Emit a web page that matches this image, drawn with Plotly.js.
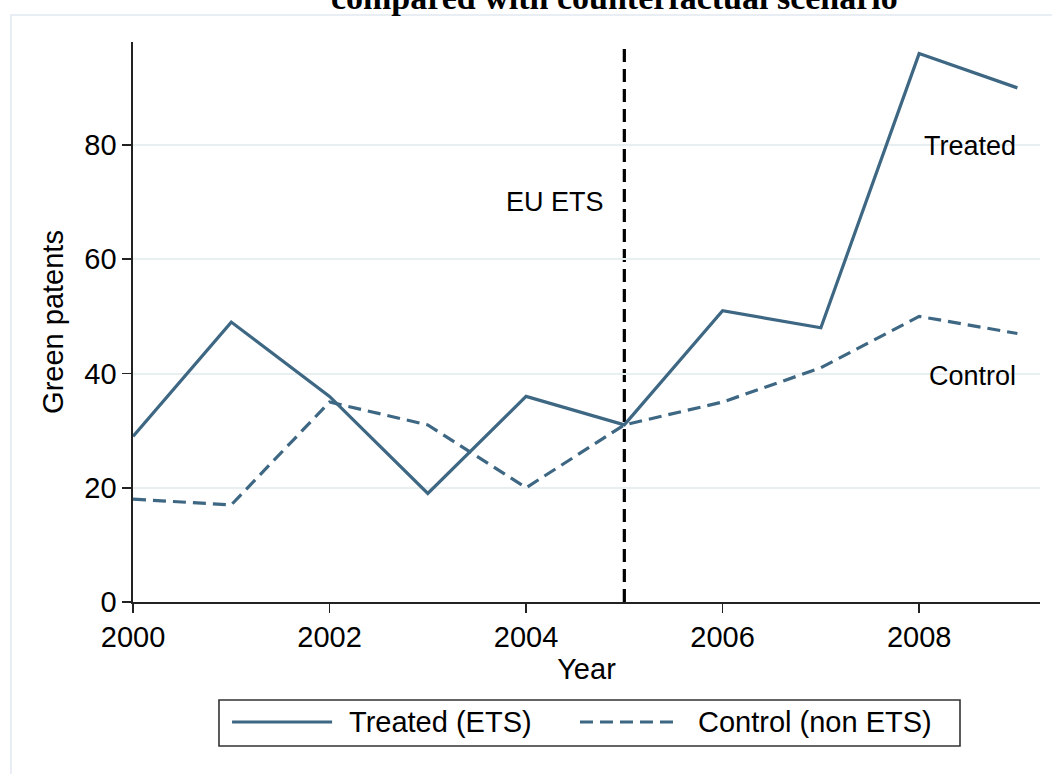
<!DOCTYPE html>
<html>
<head>
<meta charset="utf-8">
<script src="https://cdn.plot.ly/plotly-3.0.1.min.js"></script>
<style>html,body{margin:0;padding:0;background:#fff;}#chart{width:1052px;height:774px;}</style>
</head>
<body>
<div id="chart"></div>
<script>
// ---- data ----
const years = [2000, 2001, 2002, 2003, 2004, 2005, 2006, 2007, 2008, 2009];
const treated = [29, 49, 36, 19, 36, 31, 51, 48, 96, 90];
const control = [18, 17, 35, 31, 20, 31, 35, 41, 50, 47];
const seriesNames = ["Treated (ETS)", "Control (non ETS)"];
const lineLabels = ["Treated", "Control"];
const policyYear = 2005;
const policyLabel = "EU ETS";
const yTicks = [0, 20, 40, 60, 80];
const xTicks = [2000, 2002, 2004, 2006, 2008];
const titleText = "compared with counterfactual scenario";
const xTitle = "Year";
const yTitle = "Green patents";

// ---- style ----
const lineColor = "#3d6783";
const font = "Liberation Sans, Arial, Helvetica, sans-serif";

const traces = [
  {x: years, y: treated, name: seriesNames[0], type: "scatter", mode: "lines",
   line: {color: lineColor, width: 3.2}, showlegend: false},
  {x: years, y: control, name: seriesNames[1], type: "scatter", mode: "lines",
   line: {color: lineColor, width: 3.2, dash: "13px,7px"}, showlegend: false}
];

const legY = -0.2143;
const layout = {
  width: 1052, height: 774,
  margin: {l: 133, r: 12, t: 42, b: 172},
  paper_bgcolor: "#ffffff", plot_bgcolor: "#ffffff",
  font: {family: font, size: 29, color: "#000"},
  title: {text: "<b>" + titleText + "</b>", font: {family: "Liberation Serif, Times New Roman, serif", size: 34, color: "#000"},
          xref: "container", x: 0.584, xanchor: "center", yref: "container", y: 1, yanchor: "top", pad: {t: -15}},
  xaxis: {range: [2000, 2009.23], tickvals: xTicks, ticktext: xTicks.map(String),
          showgrid: false, zeroline: false, showline: true, linecolor: "#222", linewidth: 1.6,
          ticks: "outside", ticklen: 9, tickwidth: 1.6, tickcolor: "#222",
          tickfont: {size: 29}, title: {text: xTitle, font: {size: 29}, standoff: 1}},
  yaxis: {range: [0, 98.03], tickvals: yTicks, ticktext: yTicks.map(String),
          showgrid: true, gridcolor: "#e8eff1", gridwidth: 2, zeroline: false,
          showline: true, linecolor: "#222", linewidth: 1.6,
          ticks: "outside", ticklen: 9, tickwidth: 1.6, tickcolor: "#222",
          tickfont: {size: 29}, title: {text: yTitle, font: {size: 29}, standoff: 12}},
  shapes: [
    // outer frame
    {type: "rect", xref: "paper", yref: "paper", x0: -0.1345, x1: 1.05, y0: -0.4, y1: 1.048,
     line: {color: "#e8eef3", width: 2}, fillcolor: "rgba(0,0,0,0)", layer: "below"},
    // policy line
    {type: "line", xref: "x", yref: "paper", x0: policyYear, x1: policyYear, y0: 0, y1: 1,
     line: {color: "#000", width: 3.2, dash: "13px,7px"}, layer: "between"},
    // legend box
    {type: "rect", xref: "paper", yref: "paper", x0: 0.0948, x1: 0.9118, y0: -0.2571, y1: -0.175,
     line: {color: "#333", width: 1.6}, fillcolor: "#fff"},
    {type: "line", xref: "paper", yref: "paper", x0: 0.1092, x1: 0.2195, y0: legY, y1: legY,
     line: {color: lineColor, width: 3.2}},
    {type: "line", xref: "paper", yref: "paper", x0: 0.4928, x1: 0.6031, y0: legY, y1: legY,
     line: {color: lineColor, width: 3.2, dash: "13px,7px"}}
  ],
  annotations: [
    {xref: "x", yref: "y", x: 2004.29, y: 70, text: policyLabel, showarrow: false, font: {size: 27}},
    {xref: "x", yref: "y", x: 2008.52, y: 79.8, text: lineLabels[0], showarrow: false, font: {size: 27}},
    {xref: "x", yref: "y", x: 2008.54, y: 39.6, text: lineLabels[1], showarrow: false, font: {size: 27}},
    {xref: "paper", yref: "paper", x: 0.2359, y: legY, xanchor: "left", yanchor: "middle", text: seriesNames[0], showarrow: false, font: {size: 29}},
    {xref: "paper", yref: "paper", x: 0.6207, y: legY, xanchor: "left", yanchor: "middle", text: seriesNames[1], showarrow: false, font: {size: 29}}
  ]
};

Plotly.newPlot("chart", traces, layout, {displayModeBar: false, staticPlot: true});
</script>
</body>
</html>
